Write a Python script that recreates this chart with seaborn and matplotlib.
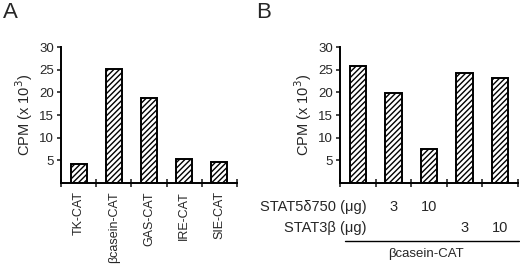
import matplotlib
matplotlib.use('Agg')
import matplotlib.pyplot as plt
from matplotlib.lines import Line2D
import seaborn as sns
import pandas as pd

# panel A data
constructs = ['TK-CAT', 'βcasein-CAT', 'GAS-CAT', 'IRE-CAT', 'SIE-CAT']
cpm_a = [4.3, 25.2, 18.8, 5.2, 4.7]

# panel B data
conds = ['c1', 'c2', 'c3', 'c4', 'c5']
cpm_b = [25.8, 19.9, 7.6, 24.3, 23.2]
stat5_ug = ['', '3', '10', '', '']
stat3_ug = ['', '', '', '3', '10']

sns.set_style('white')
plt.rcParams['font.family'] = ['Liberation Sans', 'DejaVu Sans']
plt.rcParams['hatch.linewidth'] = 1.0

fig = plt.figure(figsize=(5.2, 2.64), dpi=100)
axA = fig.add_axes([61/520, 1 - 183/264, 176/520, 136/264])
axB = fig.add_axes([340/520, 1 - 183/264, 178/520, 136/264])

dfa = pd.DataFrame({'construct': constructs, 'cpm': cpm_a})
dfb = pd.DataFrame({'cond': conds, 'cpm': cpm_b})

sns.barplot(data=dfa, x='construct', y='cpm', ax=axA, color='white',
            edgecolor='black', linewidth=1.4, hatch='//////', width=0.46)
sns.barplot(data=dfb, x='cond', y='cpm', ax=axB, color='white',
            edgecolor='black', linewidth=1.4, hatch='//////', width=0.46)

for ax in (axA, axB):
    ax.set_ylim(0, 30)
    ax.set_xlim(-0.5, 4.5)
    ax.set_yticks([5, 10, 15, 20, 25, 30])
    ax.set_xticks([-0.5, 0.5, 1.5, 2.5, 3.5, 4.5], minor=False)
    ax.set_xticklabels([])
    ax.tick_params(axis='y', direction='out', length=3, width=1.2, left=True,
                   labelsize=9.5, pad=2)
    ax.tick_params(axis='x', direction='inout', length=6, width=1.2, bottom=True)
    for s in ['top', 'right']:
        ax.spines[s].set_visible(False)
    for s in ['left', 'bottom']:
        ax.spines[s].set_linewidth(1.4)
        ax.spines[s].set_color('black')
    ax.set_xlabel('')
    ax.set_ylabel('CPM (x 10$^3$)', fontsize=10.5, labelpad=3)

# category names under panel A
for i, name in enumerate(constructs):
    axA.text(i, -0.06, name, transform=axA.get_xaxis_transform(), rotation=90,
             ha='center', va='top', fontsize=9)

# dose rows under panel B
for i in range(len(conds)):
    axB.text(i, -(207 - 183) / 136, stat5_ug[i], transform=axB.get_xaxis_transform(),
             ha='center', va='center', fontsize=10.5)
    axB.text(i, -(228 - 183) / 136, stat3_ug[i], transform=axB.get_xaxis_transform(),
             ha='center', va='center', fontsize=10.5)
fig.text(367/520, 1 - 207/264, 'STAT5δ750 (μg)', ha='right', va='center', fontsize=10.5)
fig.text(367/520, 1 - 228/264, 'STAT3β (μg)', ha='right', va='center', fontsize=10.5)
fig.add_artist(Line2D([345/520, 519/520], [1 - 240.5/264, 1 - 240.5/264],
                      transform=fig.transFigure, color='black', linewidth=1.0))
fig.text(426/520, 1 - 254/264, 'βcasein-CAT', ha='center', va='center', fontsize=9.5)

fig.text(3/520, 1 - 12/264, 'A', fontsize=16, va='center', ha='left')
fig.text(256/520, 1 - 12/264, 'B', fontsize=16, va='center', ha='left')

fig.savefig('out.png', dpi=100)
